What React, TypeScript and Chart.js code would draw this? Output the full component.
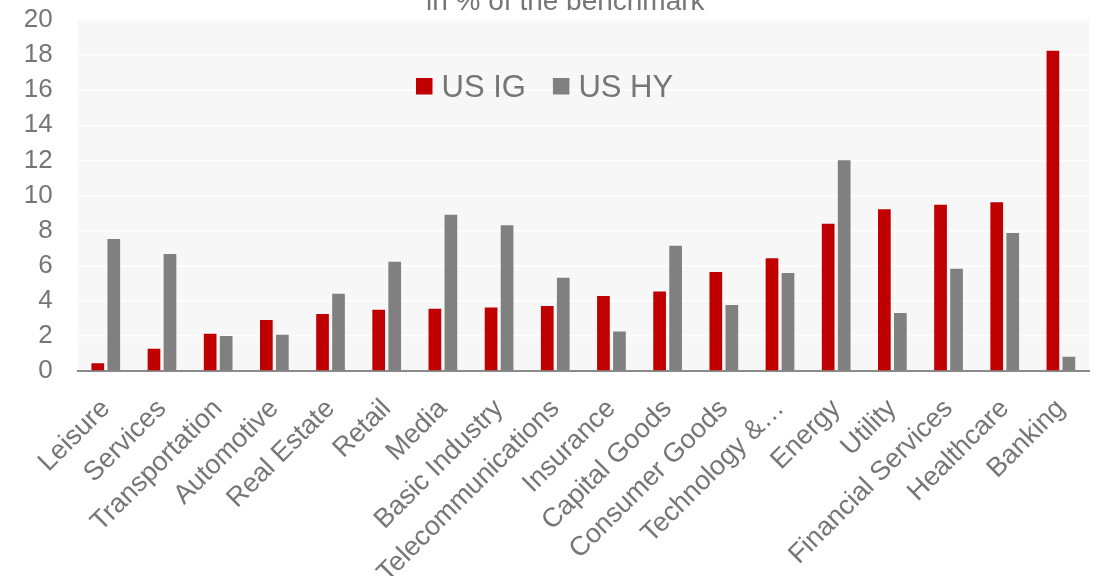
import React, { useEffect, useRef } from "react";
import { Chart, registerables } from "chart.js";

Chart.register(...registerables);

const categories = [
  "Leisure",
  "Services",
  "Transportation",
  "Automotive",
  "Real Estate",
  "Retail",
  "Media",
  "Basic Industry",
  "Telecommunications",
  "Insurance",
  "Capital Goods",
  "Consumer Goods",
  "Technology &…",
  "Energy",
  "Utility",
  "Financial Services",
  "Healthcare",
  "Banking",
];

const usIG = [0.44, 1.27, 2.12, 2.9, 3.25, 3.49, 3.55, 3.62, 3.7, 4.27, 4.53, 5.64, 6.43, 8.39, 9.22, 9.48, 9.61, 18.25];
const usHY = [7.52, 6.66, 2.0, 2.07, 4.4, 6.22, 8.9, 8.31, 5.31, 2.25, 7.13, 3.76, 5.58, 12.01, 3.3, 5.82, 7.86, 0.81];

const seriesNames = ["US IG", "US HY"];
const titleText = "in % of the benchmark";

const FONT = "'Liberation Sans', Arial, sans-serif";
const TEXT = "#767676";

const bgPlugin = {
  id: "plotBg",
  beforeDraw(chart: any) {
    const { ctx, chartArea } = chart;
    ctx.save();
    ctx.fillStyle = "#f7f7f7";
    ctx.fillRect(chartArea.left, chartArea.top, chartArea.right - chartArea.left, chartArea.bottom - chartArea.top);
    ctx.restore();
  },
};

const overlayPlugin = {
  id: "overlay",
  afterDraw(chart: any) {
    const { ctx } = chart;
    ctx.save();
    // title (clipped at top, as in the reference)
    ctx.font = `28px ${FONT}`;
    ctx.fillStyle = TEXT;
    ctx.textAlign = "left";
    ctx.textBaseline = "alphabetic";
    ctx.fillText(titleText, 426, 9.5);

    // legend
    ctx.font = `31px ${FONT}`;
    let x = 416;
    const box = 16.5;
    chart.data.datasets.forEach((ds: any) => {
      ctx.fillStyle = ds.backgroundColor;
      ctx.fillRect(x, 78, box, box);
      x += box + 9;
      ctx.fillStyle = TEXT;
      ctx.fillText(ds.label, x, 96.5);
      x += ctx.measureText(ds.label).width + 27;
    });
    ctx.restore();
  },
};

export default function App() {
  const ref = useRef<HTMLCanvasElement | null>(null);

  useEffect(() => {
    if (!ref.current) return;
    const chart = new Chart(ref.current, {
      type: "bar",
      data: {
        labels: categories,
        datasets: [
          { label: seriesNames[0], data: usIG, backgroundColor: "#C00000" },
          { label: seriesNames[1], data: usHY, backgroundColor: "#808080" },
        ],
      },
      options: {
        responsive: false,
        animation: false,
        devicePixelRatio: 1,
        layout: { padding: { left: 0, right: 5, top: 20, bottom: 0 } },
        datasets: {
          bar: { categoryPercentage: 0.5695, barPercentage: 0.794 },
        },
        plugins: {
          legend: { display: false },
          title: { display: false },
          tooltip: { enabled: false },
        },
        scales: {
          x: {
            grid: { display: false },
            border: { display: true, color: "#8a8a8a", width: 2 },
            ticks: {
              autoSkip: false,
              minRotation: 45,
              maxRotation: 45,
              color: TEXT,
              font: { family: FONT, size: 27 },
              padding: 14,
            },
            afterFit(scale: any) {
              scale.height = 205;
              scale.paddingLeft = 0;
              scale.paddingRight = 0;
            },
          },
          y: {
            min: 0,
            max: 20,
            grid: { color: "#ffffff", lineWidth: 1.5, drawTicks: false },
            border: { display: false },
            ticks: {
              stepSize: 2,
              autoSkip: false,
              color: TEXT,
              font: { family: FONT, size: 26 },
              padding: 25,
            },
            afterFit(scale: any) {
              scale.width = 77.7;
              scale.paddingTop = 0;
              scale.paddingBottom = 0;
            },
          },
        },
      },
      plugins: [bgPlugin, overlayPlugin],
    });
    return () => chart.destroy();
  }, []);

  return (
    <div style={{ position: "absolute", left: 0, top: 0, width: 1094, height: 576, overflow: "hidden", background: "#fff" }}>
      <canvas ref={ref} width={1094} height={576} style={{ display: "block" }} />
    </div>
  );
}
